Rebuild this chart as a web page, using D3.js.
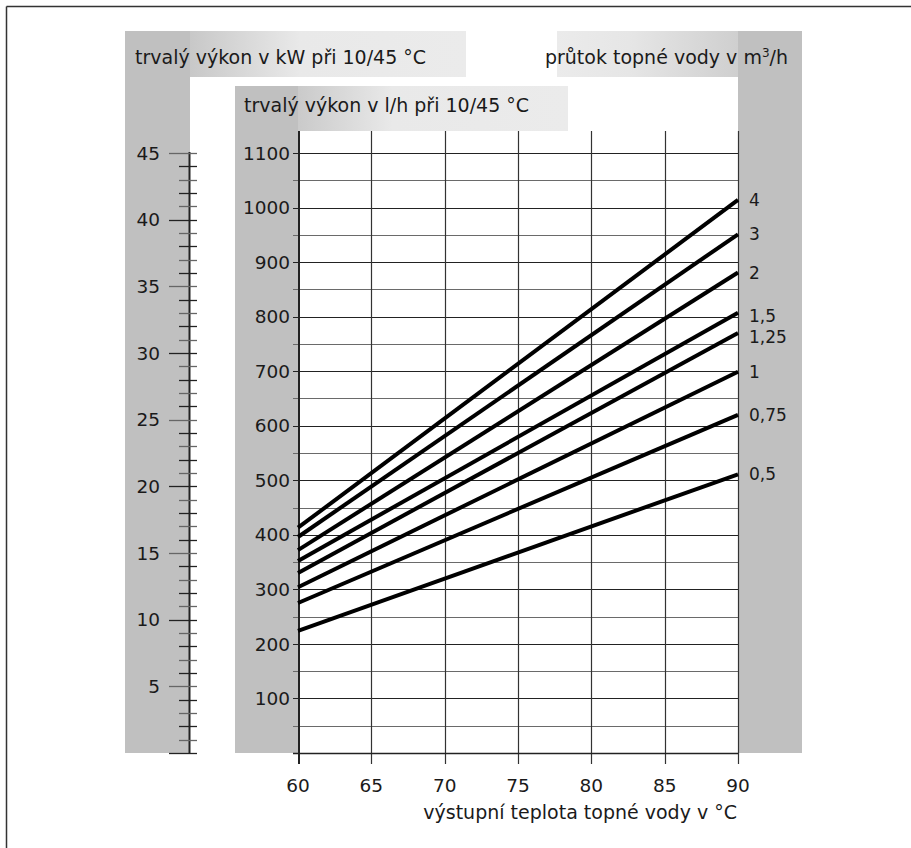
<!DOCTYPE html>
<meta charset="utf-8">
<head>
    <script src="https://d3js.org/d3.v7.min.js"></script>
    <style>
        body { margin: 0; background: #fff; }
        svg { display: block; font-family: "DejaVu Sans", sans-serif; }
        .lbl { font-size: 18.5px; fill: #1a1a1a; }
        .fl { font-size: 17px; fill: #1a1a1a; }
        .head { font-size: 19px; fill: #1a1a1a; }
    </style>
</head>
<body>
    <svg></svg>
    <script>

        // Data
        var flows = ["0,5", "0,75", "1", "1,25", "1,5", "2", "3", "4"];   // m3/h
        var temps = [60, 90];
        var at60 = [224, 275, 304, 330, 352, 372, 396, 413];              // l/h at 60 °C
        var at90 = [511, 620, 699, 770, 807, 881, 951, 1014];             // l/h at 90 °C
        var xTicks = [60, 65, 70, 75, 80, 85, 90];
        var lhTicks = [100, 200, 300, 400, 500, 600, 700, 800, 900, 1000, 1100];
        var kwTicks = [5, 10, 15, 20, 25, 30, 35, 40, 45];

        var width = 911,
            height = 848,
            gray = "#c0c0c0";

        var svg = d3.select("svg")
            .attr("width", width)
            .attr("height", height);

        // scales
        var x = d3.scaleLinear().domain([60, 90]).range([298, 738]);
        var y = d3.scaleLinear().domain([0, 1100]).range([753, 153]);
        var yKw = d3.scaleLinear().domain([0, 45]).range([753, 153]);

        // gradients for the header boxes
        var defs = svg.append("defs");
        function grad(id, stops) {
            var g = defs.append("linearGradient").attr("id", id);
            stops.forEach(function (s) {
                g.append("stop").attr("offset", s[0]).attr("stop-color", s[1]);
            });
        }
        grad("gl", [["0", "#c8c8c8"], ["0.4", "#e9e9e9"], ["1", "#ebebeb"]]);
        grad("gm", [["0", "#cacaca"], ["0.35", "#e9e9e9"], ["1", "#ebebeb"]]);
        grad("gr", [["0", "#ebebeb"], ["0.4", "#e6e6e6"], ["1", "#cfcfcf"]]);

        // outer frame (top + left only)
        svg.append("line").attr("x1", 6.5).attr("x2", width).attr("y1", 6.5).attr("y2", 6.5)
            .attr("stroke", "#333").attr("stroke-width", 1.5);
        svg.append("line").attr("x1", 6.5).attr("x2", 6.5).attr("y1", 6.5).attr("y2", height)
            .attr("stroke", "#333").attr("stroke-width", 1.5);

        // gray bands + headers
        svg.append("rect").attr("x", 125).attr("y", 31).attr("width", 65).attr("height", 722).attr("fill", gray);
        svg.append("rect").attr("x", 190).attr("y", 31).attr("width", 276).attr("height", 46).attr("fill", "url(#gl)");
        svg.append("rect").attr("x", 235).attr("y", 86).attr("width", 63).attr("height", 667).attr("fill", gray);
        svg.append("rect").attr("x", 298).attr("y", 86).attr("width", 270).attr("height", 45).attr("fill", "url(#gm)");
        svg.append("rect").attr("x", 738).attr("y", 31).attr("width", 64).attr("height", 722).attr("fill", gray);
        svg.append("rect").attr("x", 557).attr("y", 31).attr("width", 181).attr("height", 46).attr("fill", "url(#gr)");

        svg.append("text").attr("class", "head").attr("x", 135).attr("y", 64)
            .text("trvalý výkon v kW při 10/45 °C");
        svg.append("text").attr("class", "head").attr("x", 244).attr("y", 112)
            .text("trvalý výkon v l/h při 10/45 °C");
        var rh = svg.append("text").attr("class", "head").attr("x", 788).attr("y", 64)
            .attr("text-anchor", "end");
        rh.append("tspan").text("průtok topné vody v m");
        rh.append("tspan").attr("dy", -7).attr("font-size", "12px").text("3");
        rh.append("tspan").attr("dy", 7).text("/h");

        // grid
        var g = svg.append("g");
        g.selectAll(".hg")
            .data(d3.range(50, 1101, 50))
            .enter().append("line")
            .attr("x1", 293).attr("x2", 738)
            .attr("y1", function (d) { return Math.round(y(d)) + 0.5; })
            .attr("y2", function (d) { return Math.round(y(d)) + 0.5; })
            .attr("stroke", function (d) { return d % 100 ? "#6a6a6a" : "#222"; })
            .attr("stroke-width", 1.2);
        g.selectAll(".vg")
            .data(xTicks.slice(1))
            .enter().append("line")
            .attr("x1", function (d) { return Math.round(x(d)) + 0.5; })
            .attr("x2", function (d) { return Math.round(x(d)) + 0.5; })
            .attr("y1", 131).attr("y2", 764)
            .attr("stroke", "#333").attr("stroke-width", 1.2);

        // x axis line + l/h axis line
        g.append("line").attr("x1", 293).attr("x2", 738).attr("y1", 753.5).attr("y2", 753.5)
            .attr("stroke", "#222").attr("stroke-width", 1.5);
        g.append("line").attr("x1", 299).attr("x2", 299).attr("y1", 131).attr("y2", 764)
            .attr("stroke", "#222").attr("stroke-width", 2);

        // l/h labels
        svg.selectAll(".lh")
            .data(lhTicks)
            .enter().append("text")
            .attr("class", "lbl")
            .attr("x", 290)
            .attr("y", function (d) { return y(d); })
            .attr("dy", "0.36em")
            .attr("text-anchor", "end")
            .text(function (d) { return d; });

        // kW axis
        var kw = svg.append("g");
        kw.append("line").attr("x1", 189.5).attr("x2", 189.5).attr("y1", 152).attr("y2", 753)
            .attr("stroke", "#222").attr("stroke-width", 2);
        kw.selectAll(".kt")
            .data(d3.range(0, 46))
            .enter().append("line")
            .attr("x1", function (d) { return d % 5 ? 179 : 169; })
            .attr("x2", 197)
            .attr("y1", function (d) { return Math.round(yKw(d)) + 0.5; })
            .attr("y2", function (d) { return Math.round(yKw(d)) + 0.5; })
            .attr("stroke", function (d) { return d % 2 ? "#666" : "#222"; })
            .attr("stroke-width", 1.3);
        kw.selectAll(".kl")
            .data(kwTicks)
            .enter().append("text")
            .attr("class", "lbl")
            .attr("x", 160)
            .attr("y", function (d) { return yKw(d); })
            .attr("dy", "0.36em")
            .attr("text-anchor", "end")
            .text(function (d) { return d; });

        // x labels + title
        svg.selectAll(".xl")
            .data(xTicks)
            .enter().append("text")
            .attr("class", "lbl")
            .attr("x", function (d) { return x(d); })
            .attr("y", 792)
            .attr("text-anchor", "middle")
            .text(function (d) { return d; });
        svg.append("text").attr("class", "head").attr("x", 737).attr("y", 819)
            .attr("text-anchor", "end")
            .text("výstupní teplota topné vody v °C");

        // performance lines
        var line = d3.line()
            .x(function (d) { return x(d[0]); })
            .y(function (d) { return y(d[1]); });

        svg.selectAll(".perf")
            .data(flows)
            .enter().append("path")
            .attr("d", function (d, i) { return line([[temps[0], at60[i]], [temps[1], at90[i]]]); })
            .attr("fill", "none")
            .attr("stroke", "#000")
            .attr("stroke-width", 4);

        svg.selectAll(".flab")
            .data(flows)
            .enter().append("text")
            .attr("class", "fl")
            .attr("x", 749)
            .attr("y", function (d, i) { return y(at90[i]) + (d === "1,5" ? 3 : d === "1,25" ? 4 : 0); })
            .attr("dy", "0.36em")
            .text(function (d) { return d; });

    </script>
</body>
</html>
